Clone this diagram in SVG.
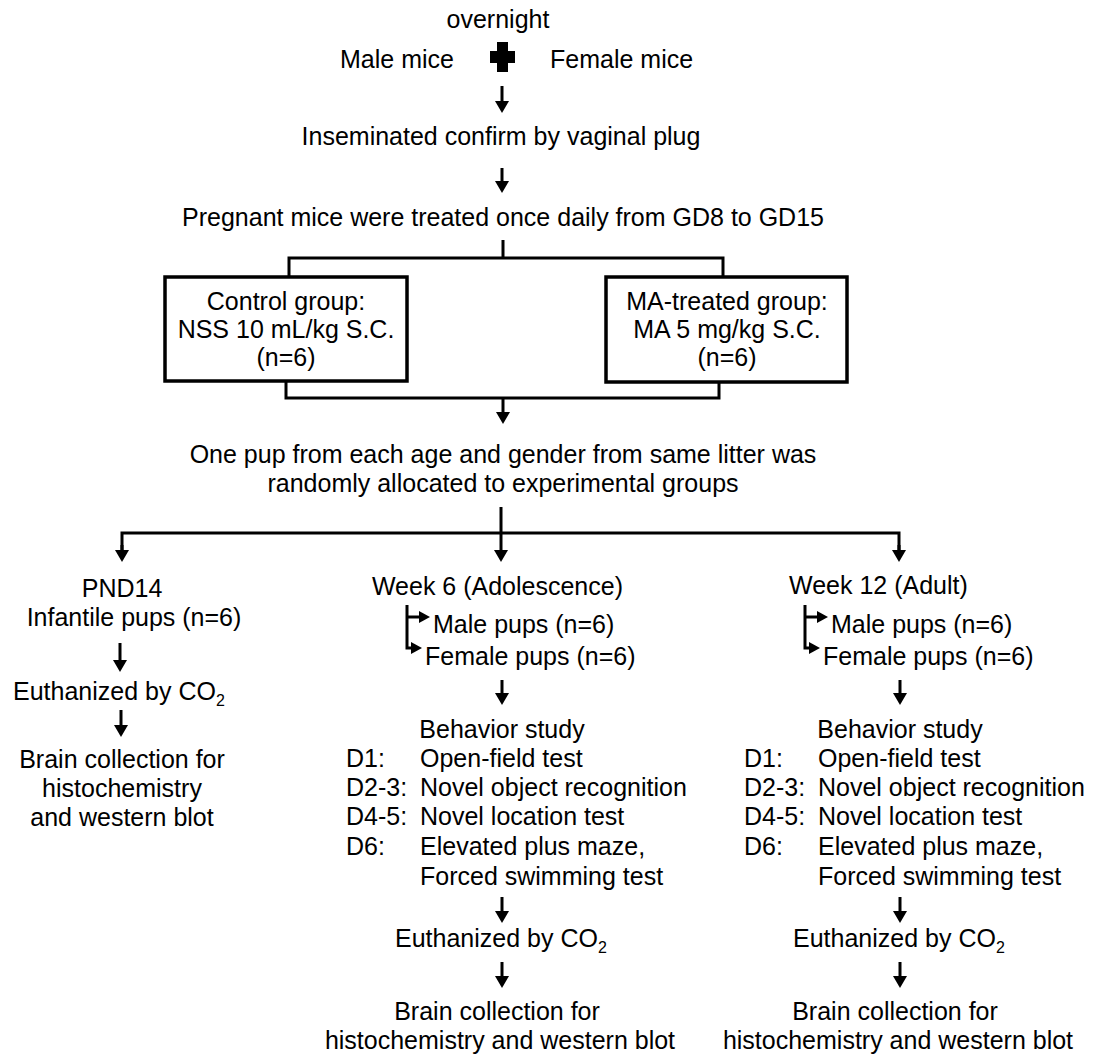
<svg xmlns="http://www.w3.org/2000/svg" width="1097" height="1056" viewBox="0 0 1097 1056">
<style>
text{font-family:"Liberation Sans",Arial,sans-serif;font-size:25px;fill:#000}
.c{text-anchor:middle}
.e{text-anchor:end}
.ln{fill:none;stroke:#000;stroke-width:3}
.box{fill:#fff;stroke:#000;stroke-width:3.5}
.sub{font-size:16px}
</style>
<defs>
<marker id="ah" viewBox="0 0 12 14" refX="1" refY="7" markerWidth="12" markerHeight="14" orient="auto" markerUnits="userSpaceOnUse"><path d="M0,0 L12,7 L0,14 Z" fill="#000"/></marker>
<marker id="as" viewBox="0 0 11 12" refX="1" refY="6" markerWidth="11" markerHeight="12" orient="auto" markerUnits="userSpaceOnUse"><path d="M0,0 L11,6 L0,12 Z" fill="#000"/></marker>
</defs>
<rect width="1097" height="1056" fill="#fff"/>

<g id="connectors">
<path class="ln" d="M502,86 V102" marker-end="url(#ah)"/>
<path class="ln" d="M502,168 V182" marker-end="url(#ah)"/>
<path class="ln" d="M503,240 V258 M289,277 V258 H723 V277"/>
<path class="ln" d="M286,381 V398 H719 V382"/>
<path class="ln" d="M503,398 V413" marker-end="url(#ah)"/>
<path class="ln" d="M501,507 V533 M122,551 V533 H899 V551"/>
<path class="ln" d="M501,533 V551" marker-end="url(#ah)"/>
<path class="ln" d="M122,545 V551" marker-end="url(#ah)"/>
<path class="ln" d="M899,545 V551" marker-end="url(#ah)"/>
<path class="ln" d="M120,643 V661" marker-end="url(#ah)"/>
<path class="ln" d="M121,710 V726" marker-end="url(#ah)"/>
<path class="ln" d="M407,605 V648 H412" marker-end="url(#as)"/>
<path class="ln" d="M407,617 H420" marker-end="url(#as)"/>
<path class="ln" d="M805,605 V648 H810" marker-end="url(#as)"/>
<path class="ln" d="M805,617 H818" marker-end="url(#as)"/>
<path class="ln" d="M502,680 V694" marker-end="url(#ah)"/>
<path class="ln" d="M900,680 V694" marker-end="url(#ah)"/>
<path class="ln" d="M502,897 V912" marker-end="url(#ah)"/>
<path class="ln" d="M900,897 V912" marker-end="url(#ah)"/>
<path class="ln" d="M502,962 V977" marker-end="url(#ah)"/>
<path class="ln" d="M900,962 V977" marker-end="url(#ah)"/>
</g>

<g id="mating">
<text x="498" y="28" class="c">overnight</text>
<text x="340" y="68">Male mice</text>
<path d="M497,42 H508 V51 H515 V63 H508 V72 H497 V63 H490 V51 H497 Z" fill="#000"/>
<text x="550" y="68">Female mice</text>
</g>

<g id="insemination">
<text x="501" y="145" class="c">Inseminated confirm by vaginal plug</text>
</g>

<g id="pregnant">
<text x="503" y="226" class="c">Pregnant mice were treated once daily from GD8 to GD15</text>
</g>

<g id="control-group">
<rect class="box" x="165" y="277" width="242" height="104"/>
<text x="286" y="310" class="c">Control group:</text>
<text x="286" y="338" class="c">NSS 10 mL/kg S.C.</text>
<text x="286" y="366" class="c">(n=6)</text>
</g>

<g id="ma-group">
<rect class="box" x="606" y="277" width="241" height="105"/>
<text x="727" y="310" class="c">MA-treated group:</text>
<text x="727" y="338" class="c">MA 5 mg/kg S.C.</text>
<text x="727" y="366" class="c">(n=6)</text>
</g>

<g id="allocation">
<text x="503" y="463" class="c">One pup from each age and gender from same litter was</text>
<text x="503" y="492" class="c">randomly allocated to experimental groups</text>
</g>

<g id="pnd14">
<text x="122" y="597" class="c">PND14</text>
<text x="134" y="626" class="c">Infantile pups (n=6)</text>
<text x="13" y="700">Euthanized by CO<tspan class="sub" dy="6">2</tspan></text>
<text x="122" y="768" class="c">Brain collection for</text>
<text x="122" y="797" class="c">histochemistry</text>
<text x="122" y="826" class="c">and western blot</text>
</g>

<g id="week6">
<text x="623" y="595" class="e">Week 6 (Adolescence)</text>
<text x="433" y="633">Male pups (n=6)</text>
<text x="425" y="665">Female pups (n=6)</text>
<text x="502" y="738" class="c">Behavior study</text>
<text x="346" y="767">D1:</text><text x="420" y="767">Open-field test</text>
<text x="346" y="796">D2-3:</text><text x="420" y="796">Novel object recognition</text>
<text x="346" y="825">D4-5:</text><text x="420" y="825">Novel location test</text>
<text x="346" y="855">D6:</text><text x="420" y="855">Elevated plus maze,</text>
<text x="420" y="885">Forced swimming test</text>
<text x="395" y="947">Euthanized by CO<tspan class="sub" dy="6">2</tspan></text>
<text x="497" y="1020" class="c">Brain collection for</text>
<text x="500" y="1049" class="c">histochemistry and western blot</text>
</g>

<g id="week12">
<text x="789" y="594">Week 12 (Adult)</text>
<text x="831" y="633">Male pups (n=6)</text>
<text x="823" y="665">Female pups (n=6)</text>
<text x="900" y="738" class="c">Behavior study</text>
<text x="744" y="767">D1:</text><text x="818" y="767">Open-field test</text>
<text x="744" y="796">D2-3:</text><text x="818" y="796">Novel object recognition</text>
<text x="744" y="825">D4-5:</text><text x="818" y="825">Novel location test</text>
<text x="744" y="855">D6:</text><text x="818" y="855">Elevated plus maze,</text>
<text x="818" y="885">Forced swimming test</text>
<text x="793" y="947">Euthanized by CO<tspan class="sub" dy="6">2</tspan></text>
<text x="895" y="1020" class="c">Brain collection for</text>
<text x="898" y="1049" class="c">histochemistry and western blot</text>
</g>
</svg>
